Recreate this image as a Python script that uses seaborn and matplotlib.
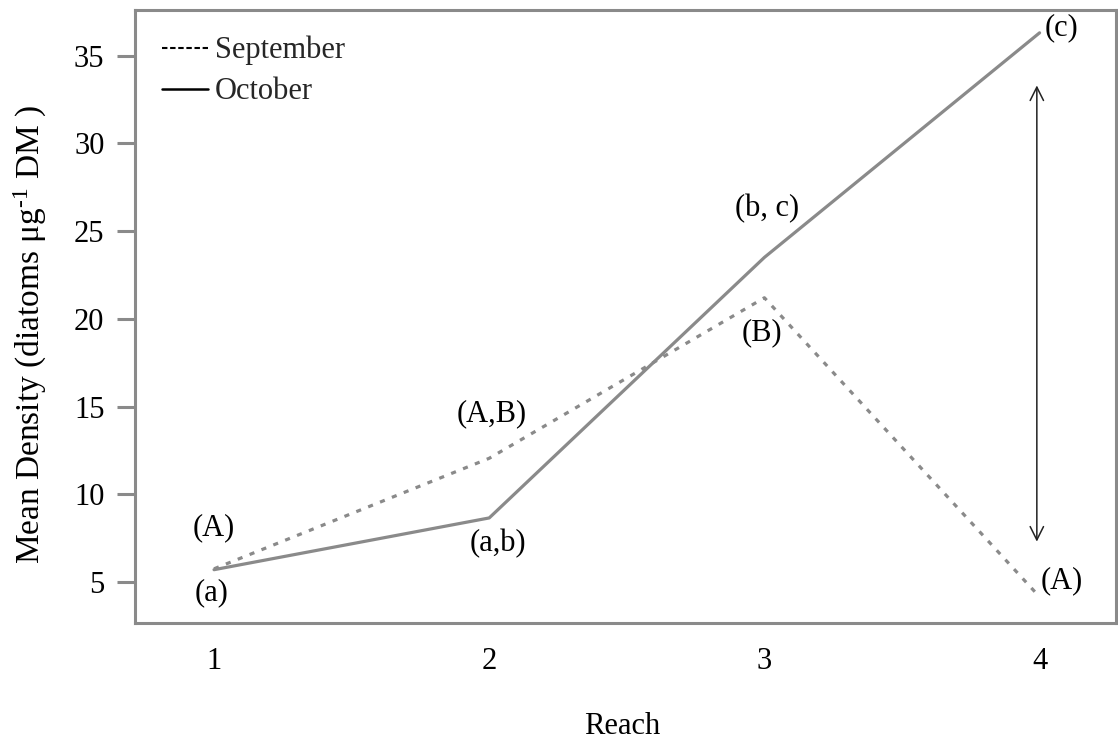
import matplotlib
matplotlib.use("Agg")
import matplotlib.pyplot as plt
from matplotlib.lines import Line2D
import seaborn as sns
import pandas as pd

# Mean diatom density per reach, two sampling months
reaches = [1, 2, 3, 4]
september = [5.75, 12.05, 21.2, 4.15]
october = [5.7, 8.65, 23.5, 36.3]
month_names = ["September", "October"]

# Letter groupings (post-hoc comparisons) shown beside each point
sept_letters = ["(A)", "(A,B)", "(B)", "(A)"]
oct_letters = ["(a)", "(a,b)", "(b, c)", "(c)"]

df = pd.DataFrame({
    "Reach": reaches * 2,
    "Density": september + october,
    "Month": [month_names[0]] * 4 + [month_names[1]] * 4,
})

sns.set_theme(style="white")
plt.rcParams["font.family"] = ["Liberation Serif", "DejaVu Serif"]
plt.rcParams["mathtext.fontset"] = "custom"
plt.rcParams["mathtext.rm"] = "Liberation Serif"
plt.rcParams["mathtext.it"] = "Liberation Serif:italic"

FS = 22

fig = plt.figure(figsize=(11.18, 7.41), dpi=100)
ax = fig.add_axes([0.1208, 0.1592, 0.877, 0.8273])

line_color = "#8a8a8a"
sns.lineplot(data=df, x="Reach", y="Density", style="Month",
             dashes={"September": (1.6, 2.4), "October": ""},
             color=line_color, linewidth=2.3, legend=False, ax=ax)

ax.set_xlim(0.713, 4.276)
ax.set_ylim(2.66, 37.6)
ax.set_xticks(reaches)
ax.set_yticks([5, 10, 15, 20, 25, 30, 35])

for s in ax.spines.values():
    s.set_color("#8a8a8a")
    s.set_linewidth(2.2)

ax.tick_params(axis="y", which="major", left=True, length=13, width=2.2,
               color="#8a8a8a", pad=9, labelsize=FS, labelcolor="black")
ax.tick_params(axis="x", which="major", bottom=False, length=0, pad=17,
               labelsize=FS, labelcolor="black")

ax.set_xlabel("Reach", fontsize=FS, color="black", va="baseline")
ax.xaxis.set_label_coords(0.497, -0.181)
ax.set_ylabel("Mean Density (diatoms μg$^{\\text{-1}}$ DM )", fontsize=24,
              color="black", va="center", ha="center")
ax.yaxis.set_label_coords(-0.107, 0.47)

# Group letters
text_kw = dict(fontsize=FS, color="black", ha="center", va="center")
sept_pos = [(1.0, 8.1), (2.01, 14.6), (2.99, 19.2), (4.08, 5.1)]
oct_pos = [(0.99, 4.4), (2.03, 7.2), (3.01, 26.3), (4.08, 36.6)]
for lab, (x, y) in zip(sept_letters, sept_pos):
    ax.text(x, y, lab, **text_kw)
for lab, (x, y) in zip(oct_letters, oct_pos):
    ax.text(x, y, lab, **text_kw)

# Double-headed arrow showing the September/October gap at reach 4
ax.annotate("", xy=(3.99, 33.3), xytext=(3.99, 7.3),
            arrowprops=dict(arrowstyle="<->", color="#222222", lw=1.1,
                            mutation_scale=24, shrinkA=0, shrinkB=0))

handles = [
    Line2D([], [], color="black", linewidth=1.5, dashes=(2.6, 1.3)),
    Line2D([], [], color="black", linewidth=1.8),
]
leg = ax.legend(handles, month_names, loc="upper left", frameon=False,
                fontsize=FS, handlelength=1.5, handletextpad=0.22,
                labelspacing=0.4, borderaxespad=0.0,
                bbox_to_anchor=(0.015, 0.978))

fig.savefig("out.png", dpi=100)
